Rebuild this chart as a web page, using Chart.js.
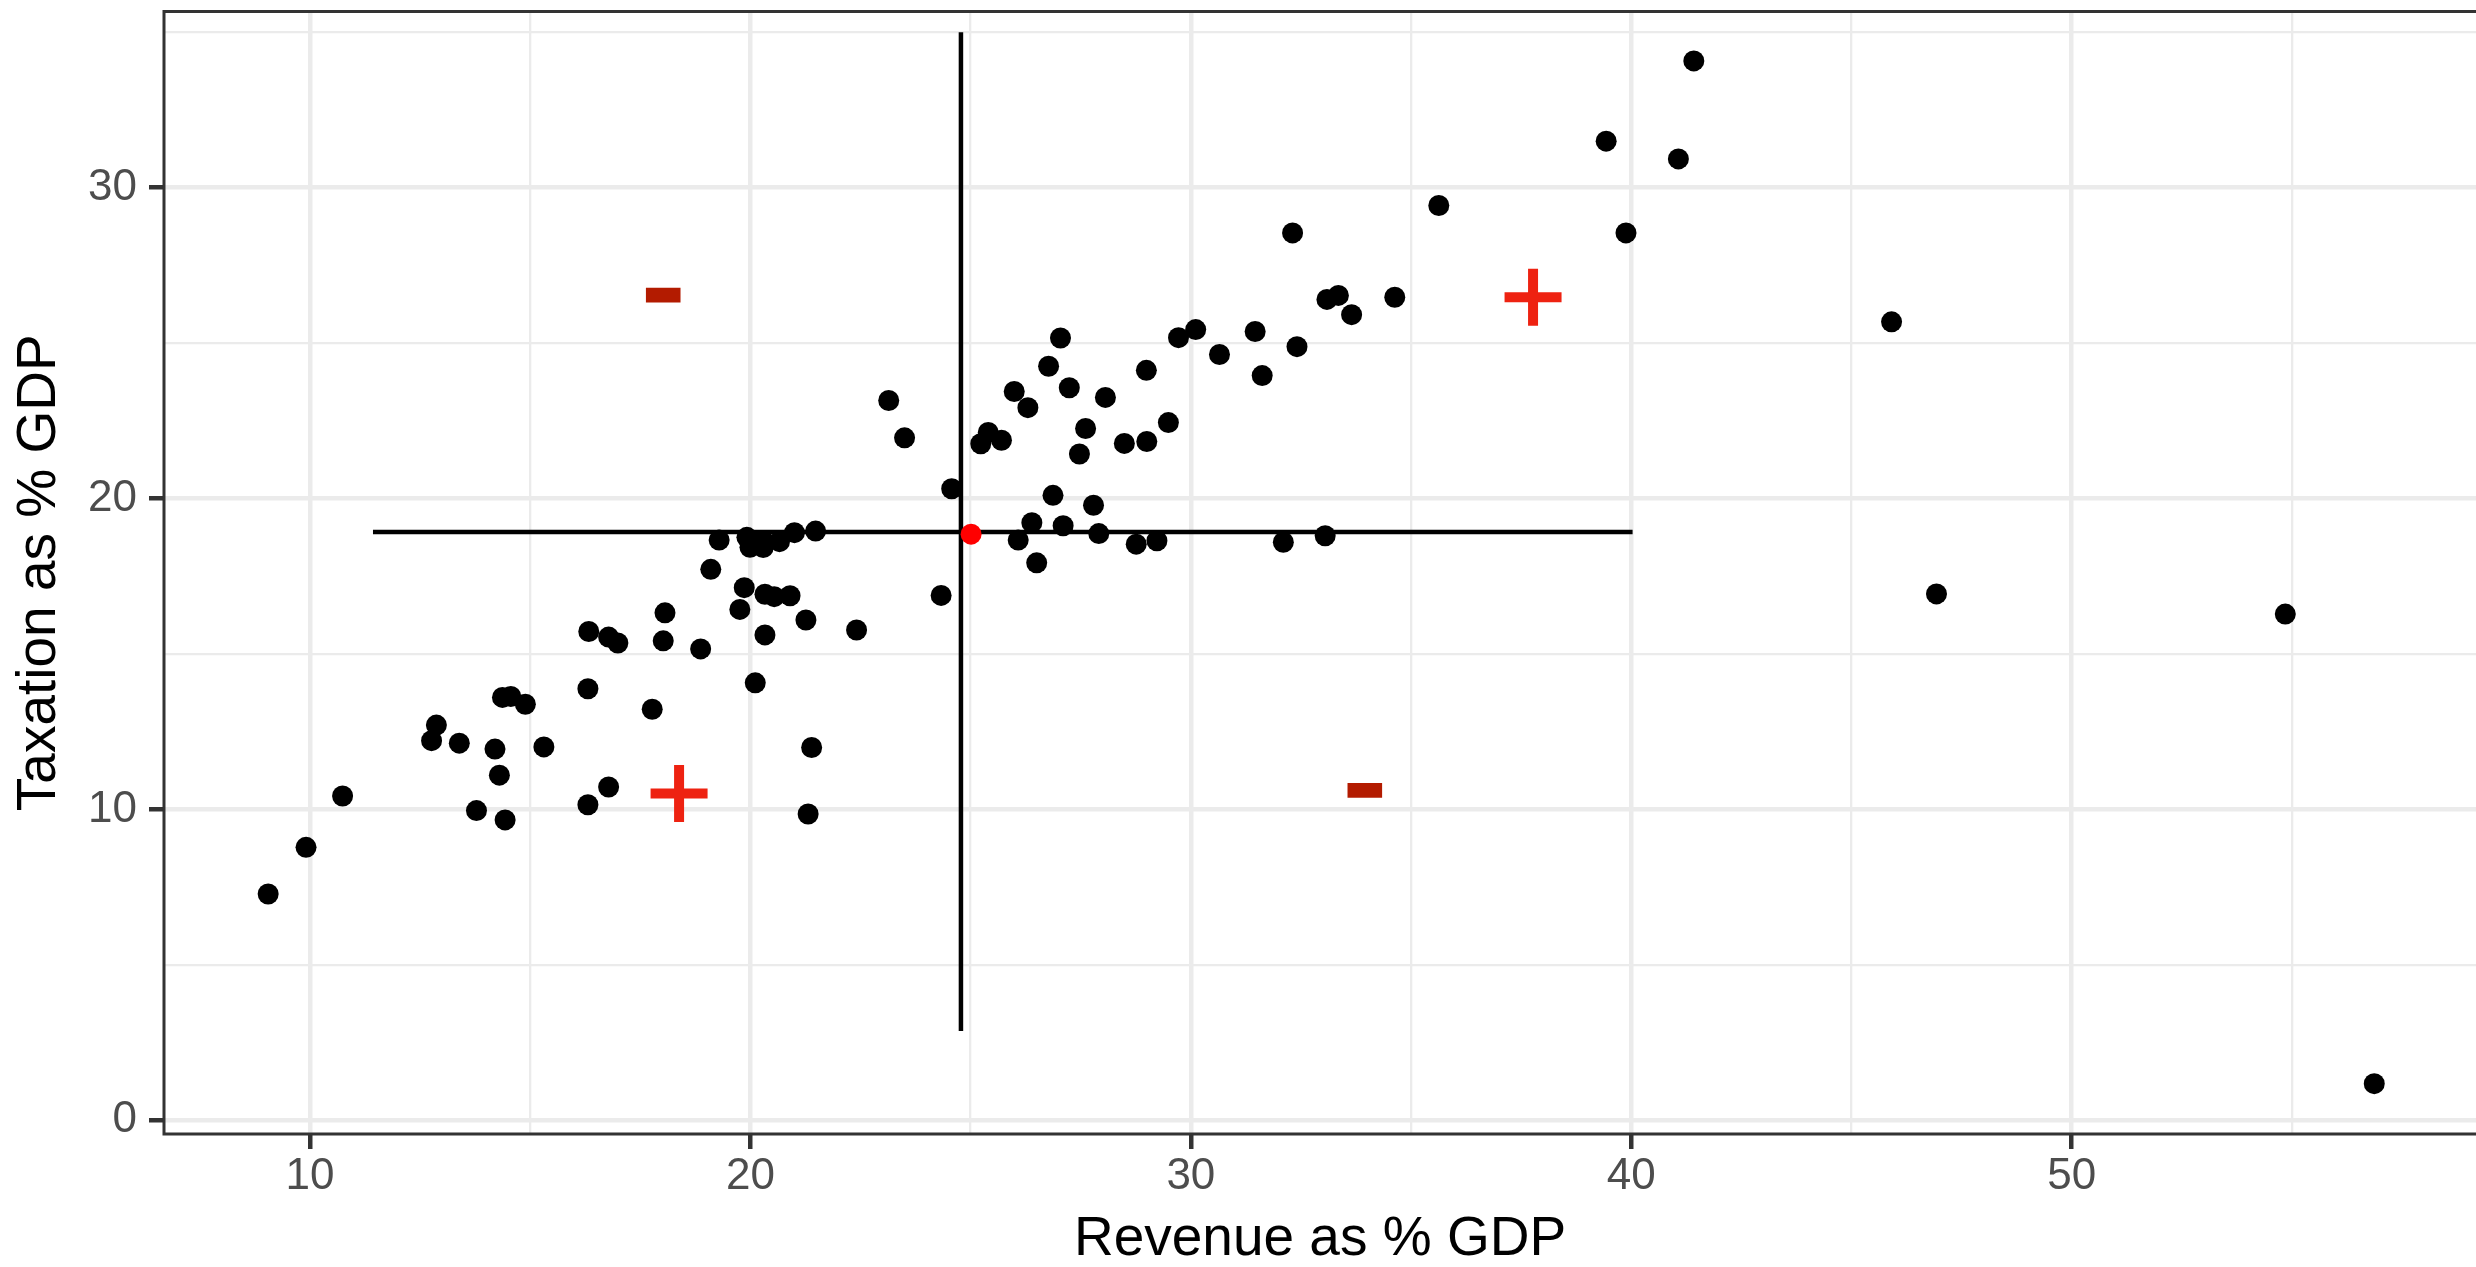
<!DOCTYPE html>
<html>
<head>
<meta charset="utf-8">
<script src="https://cdn.jsdelivr.net/npm/chart.js@4/dist/chart.umd.min.js"></script>
<style>
  html, body { margin: 0; padding: 0; background: #fff; }
  #chart { display: block; }
</style>
</head>
<body>
<canvas id="chart" width="2476" height="1267" style="width:2476px;height:1267px"></canvas>
<script>
// revenue (x) and taxation (y), both as % of GDP
const revenue = [
  9.05, 9.91, 10.74, 12.87, 12.76, 13.39, 14.20, 14.30, 13.78, 14.43,
  14.37, 14.56, 14.89, 15.31, 16.31, 16.33, 16.78, 16.99, 16.31, 16.78,
  17.77, 18.06, 18.02, 18.87, 19.10, 19.76, 19.86, 20.33, 20.54, 20.90,
  21.26, 20.33, 20.11, 22.41, 21.39, 21.31, 19.29, 19.92, 19.99, 20.29,
  20.29, 20.66, 21.00, 21.48, 23.14, 23.50, 24.57, 24.33, 25.23, 25.40,
  25.70, 25.99, 26.30, 26.77, 27.04, 27.24, 28.06, 27.61, 27.47, 28.49,
  29.00, 29.49, 28.99, 29.72, 30.11, 30.65, 31.46, 31.62, 32.41, 32.31,
  33.09, 33.35, 33.65, 34.63, 35.63, 39.43, 41.07, 39.88, 41.42, 45.91,
  46.93, 54.85, 56.87, 26.08, 26.39, 26.50, 26.87, 27.10, 27.79, 27.91,
  28.76, 29.23, 32.10, 33.05
];
const taxation = [
  7.28, 8.78, 10.43, 12.71, 12.21, 12.13, 11.94, 11.10, 9.96, 9.66,
  13.60, 13.63, 13.38, 12.01, 13.88, 15.72, 15.54, 15.35, 10.15, 10.72,
  13.22, 16.32, 15.42, 15.16, 17.72, 16.43, 17.13, 16.92, 16.84, 16.87,
  16.09, 15.61, 14.07, 15.77, 11.99, 9.85, 18.66, 18.75, 18.43, 18.42,
  18.64, 18.61, 18.90, 18.95, 23.15, 21.95, 20.31, 16.88, 21.76, 22.12,
  21.87, 23.44, 22.92, 24.25, 25.16, 23.56, 23.25, 22.25, 21.43, 21.77,
  21.83, 22.44, 24.12, 25.17, 25.43, 24.63, 25.37, 23.95, 24.88, 28.54,
  26.40, 26.53, 25.91, 26.47, 29.42, 31.49, 30.92, 28.54, 34.07, 25.68,
  16.93, 16.28, 1.18, 18.66, 19.22, 17.93, 20.10, 19.12, 19.78, 18.87,
  18.53, 18.64, 18.59, 18.80
];

// highlighted country
const highlightX = [25.01];
const highlightY = [18.85];

// cross-hair: horizontal and vertical segments
const hlineX = [11.43, 40.03];
const hlineY = 18.92;
const vlineX = 24.78;
const vlineY = [2.87, 34.99];

// quadrant signs
const plusX = [18.38, 37.77];
const plusY = [10.51, 26.47];
const minusX = [18.02, 33.95];
const minusY = [26.54, 10.61];

// axis ranges and ticks
const xRange = [6.685, 59.18];
const yRange = [-0.44, 35.66];
const tickStep = 5;
const labelStep = 10;

const xTitle = "Revenue as % GDP";
const yTitle = "Taxation as % GDP";

const FONT = "'Liberation Sans', Arial, Helvetica, sans-serif";

function pairs(xs, ys) {
  return xs.map((x, i) => ({ x: x, y: ys[i] }));
}

const isMajor = (ctx) => ctx.tick && Math.abs(ctx.tick.value % labelStep) < 1e-9;

const panelBorder = {
  id: "panelBorder",
  afterDatasetsDraw(chart) {
    const { ctx, chartArea } = chart;
    ctx.save();
    ctx.strokeStyle = "#333333";
    ctx.lineWidth = 3;
    ctx.beginPath();
    ctx.moveTo(chartArea.right + 2, chartArea.top);
    ctx.lineTo(chartArea.left, chartArea.top);
    ctx.lineTo(chartArea.left, chartArea.bottom);
    ctx.lineTo(chartArea.right + 2, chartArea.bottom);
    ctx.stroke();
    ctx.restore();
  },
};

// fixed axis size, and no extra room for half-labels at the ends
function fixSize(prop, size) {
  return (scale) => {
    scale[prop] = size;
    scale.paddingTop = 0;
    scale.paddingBottom = 0;
    scale.paddingLeft = 0;
    scale.paddingRight = 0;
  };
}

function axis(range, title, opts) {
  return {
    type: "linear",
    min: range[0],
    max: range[1],
    border: { display: false },
    grid: {
      color: "#EBEBEB",
      lineWidth: (ctx) => (isMajor(ctx) ? 4.5 : 2.3),
      drawTicks: true,
      tickLength: 15,
      tickWidth: 4.5,
      tickColor: (ctx) => (isMajor(ctx) ? "#333333" : "rgba(0,0,0,0)"),
    },
    ticks: {
      stepSize: tickStep,
      includeBounds: false,
      autoSkip: false,
      maxRotation: 0,
      color: "#4D4D4D",
      font: { family: FONT, size: 44 },
      padding: opts.tickPadding,
      callback: (v) => (Math.abs(v % labelStep) < 1e-9 ? String(v) : ""),
    },
    title: {
      display: true,
      text: title,
      color: "#000000",
      font: { family: FONT, size: 55, lineHeight: 1 },
      padding: opts.titlePadding,
    },
    afterFit: opts.afterFit,
  };
}

new Chart(document.getElementById("chart"), {
  type: "scatter",
  data: {
    datasets: [
      {
        label: "countries",
        data: pairs(revenue, taxation),
        backgroundColor: "#000000",
        borderWidth: 0,
        pointRadius: 10.5,
        pointHoverRadius: 10.5,
        order: 0,
      },
      {
        label: "highlight",
        data: pairs(highlightX, highlightY),
        backgroundColor: "#FF0000",
        borderWidth: 0,
        pointRadius: 10.5,
        pointHoverRadius: 10.5,
        order: 0,
      },
      {
        label: "plus",
        data: pairs(plusX, plusY),
        pointStyle: "cross",
        pointRadius: 28.5,
        pointHoverRadius: 28.5,
        borderWidth: 10,
        borderColor: "#EE2211",
        backgroundColor: "#EE2211",
        order: 1,
      },
      {
        label: "minus",
        data: pairs(minusX, minusY),
        pointStyle: "line",
        pointRadius: 17.3,
        pointHoverRadius: 17.3,
        borderWidth: 14.7,
        borderColor: "#B31B00",
        backgroundColor: "#B31B00",
        order: 1,
      },
      {
        label: "hline",
        data: pairs(hlineX, [hlineY, hlineY]),
        showLine: true,
        borderColor: "#000000",
        borderWidth: 4.5,
        pointRadius: 0,
        order: 2,
      },
      {
        label: "vline",
        data: pairs([vlineX, vlineX], vlineY),
        showLine: true,
        borderColor: "#000000",
        borderWidth: 4.5,
        pointRadius: 0,
        order: 2,
      },
    ],
  },
  options: {
    responsive: false,
    devicePixelRatio: 1,
    animation: false,
    layout: {
      autoPadding: false,
      padding: { top: 11.5, right: 0, bottom: 0, left: 0 },
    },
    plugins: {
      legend: { display: false },
      tooltip: { enabled: false },
    },
    scales: {
      x: axis(xRange, xTitle, {
        tickPadding: 1,
        titlePadding: { top: 0, bottom: 0 },
        afterFit: fixSize("height", 133),
      }),
      y: axis(yRange, yTitle, {
        tickPadding: 12,
        titlePadding: { top: 12.5, bottom: 0 },
        afterFit: fixSize("width", 164),
      }),
    },
  },
  plugins: [panelBorder],
});
</script>
</body>
</html>
